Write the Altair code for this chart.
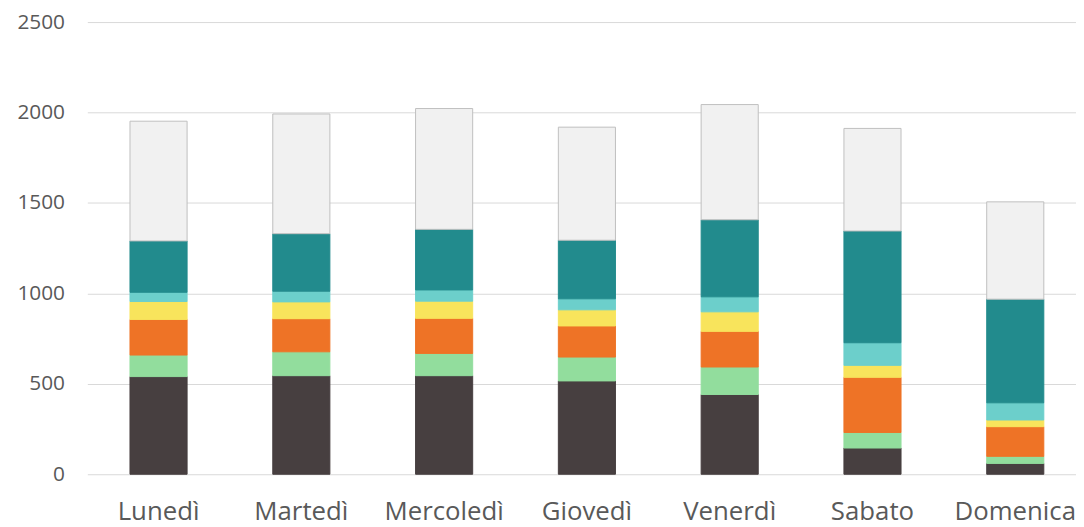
import altair as alt
import pandas as pd

days = ["Lunedì", "Martedì", "Mercoledì", "Giovedì", "Venerdì", "Sabato", "Domenica"]
series = ["Serie 1", "Serie 2", "Serie 3", "Serie 4", "Serie 5", "Serie 6", "Serie 7"]
colors = ["#473F40", "#92DD9D", "#EE7326", "#F8E45C", "#6CCFCB", "#228B8D", "#F1F1F1"]
strokes = ["#473F40", "#92DD9D", "#EE7326", "#F8E45C", "#6CCFCB", "#228B8D", "#BFBFBF"]

s1 = [540, 545, 545, 516, 441, 145, 60]
s2 = [119, 132, 123, 132, 152, 86, 39]
s3 = [197, 183, 194, 172, 197, 305, 164]
s4 = [99, 93, 95, 89, 108, 66, 37]
s5 = [51, 59, 62, 61, 83, 125, 95]
s6 = [284, 318, 335, 324, 426, 618, 573]
s7 = [662, 662, 668, 625, 637, 567, 538]

y_ticks = [0, 500, 1000, 1500, 2000, 2500]

values = [s1, s2, s3, s4, s5, s6, s7]
rows = []
for k, (name, vals) in enumerate(zip(series, values)):
    for d, v in zip(days, vals):
        rows.append({"giorno": d, "serie": name, "idx": k, "valore": v})
df = pd.DataFrame(rows)

FONT = "Open Sans"

chart = alt.Chart(df).mark_bar(strokeWidth=1).encode(
    x=alt.X(
        "giorno:N",
        sort=days,
        title=None,
        scale=alt.Scale(paddingInner=0.6, paddingOuter=0.262, align=0.57),
        axis=alt.Axis(
            labelAngle=0, ticks=False, domain=False, grid=False,
            labelFont=FONT, labelFontSize=26, labelColor="#595959",
            labelPadding=25,
        ),
    ),
    y=alt.Y(
        "valore:Q",
        stack="zero",
        title=None,
        scale=alt.Scale(domain=[0, 2500], nice=False),
        axis=alt.Axis(
            values=y_ticks, format="d", ticks=False, domain=False,
            labelFont=FONT, labelFontSize=21, labelColor="#595959",
            labelPadding=23, gridColor="#D9D9D9", gridWidth=1,
        ),
    ),
    color=alt.Color("serie:N", scale=alt.Scale(domain=series, range=colors), legend=None),
    stroke=alt.Stroke("serie:N", scale=alt.Scale(domain=series, range=strokes), legend=None),
    order=alt.Order("idx:Q", sort="ascending"),
).properties(
    width=997,
    height=456,
    padding={"left": 8, "top": 1, "right": 0, "bottom": 0},
).configure_view(stroke=None)

chart.save("out.html", embed_options={"renderer": "svg", "actions": False})
